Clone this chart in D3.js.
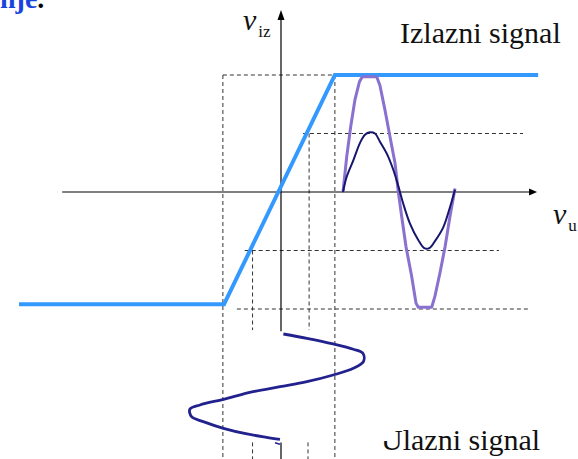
<!DOCTYPE html>
<html><head><meta charset="utf-8">
<script src="https://cdn.jsdelivr.net/npm/d3@7"></script>
<style>html,body{margin:0;padding:0;background:#fff;}svg{display:block;}</style>
</head><body>
<script>
// ---- data ----
// transfer characteristic vout = f(vin)
const transferVin  = [-4.66, -1.0, 0.98, 4.61];
const transferVout = [-0.96, -0.96, 1.0, 1.0];
// output signals vs time (one period)
const outTime  = [0,0.033,0.092,0.152,0.196,0.241,0.286,0.330,0.390,0.449,0.494,0.538,0.598,0.672,0.726,0.771,0.821,0.896,0.955,1.0];
const outSmall = [0,0.13,0.27,0.42,0.49,0.51,0.50,0.43,0.33,0.19,0.05,-0.10,-0.27,-0.41,-0.48,-0.48,-0.42,-0.30,-0.13,0.02];
const clipTime = [0,0.033,0.069,0.107,0.146,0.172,0.301,0.330,0.375,0.420,0.464,0.494,0.524,0.563,0.613,0.652,0.672,0.792,0.821,0.866,0.911,0.955,1.0];
const clipOut  = [0,0.30,0.56,0.79,0.94,0.985,0.985,0.91,0.70,0.47,0.25,0,-0.21,-0.47,-0.72,-0.95,-0.985,-0.985,-0.89,-0.69,-0.47,-0.21,0.03];
// input signal vs time (time runs downward)
const inTime = [0,0.041,0.094,0.144,0.182,0.261,0.324,0.387,0.450,0.497,0.544,0.616,0.670,0.710,0.780,0.827,0.890,0.943,0.975,0.994];
const inVin  = [0.06,0.48,0.95,1.31,1.48,1.49,1.31,0.95,0.48,0.0,-0.48,-1.01,-1.43,-1.61,-1.58,-1.37,-1.01,-0.59,-0.24,0.0];
const tailTime = [1.026, 1.04];
const tailVin  = [-0.09, 0.0];
// dashed guide lines: horizontal [vout, vinFrom, vinTo], vertical [vin, voutFrom, voutTo]
const hGuides = [[1.0,-1.02,3.27],[0.5,0.41,4.34],[-0.5,-0.63,3.91],[-1.0,-0.77,4.46]];
const vGuides = [[-1.02,1.0,-2.3],[0.98,1.0,-2.3],[-0.49,-0.5,-1.18],[0.52,0.5,-1.18],[-0.49,-2.14,-2.3],[0.5,-2.14,-2.3]];
// axes extents
const xAxisVin = [-3.89, 4.59];
const yAxisVout = [[1.556,-1.19],[-2.14,-2.3]];
// texts
const titleFrag = "nje";
const outLabel = "Izlazni signal";
const inLabel = "Ulazni signal";
const yName = ["v","iz"];
const xName = ["v","u"];

// ---- drawing ----
const W = 578, H = 459;
const svg = d3.select("body").append("svg").attr("width", W).attr("height", H);

const x  = d3.scaleLinear().domain([-1, 1]).range([224, 336]);   // vin
const y  = d3.scaleLinear().domain([-1, 1]).range([309, 75]);    // vout
const t  = d3.scaleLinear().domain([0, 1]).range([343, 455]);    // time, output plot
const tIn = d3.scaleLinear().domain([0, 1]).range([334, 440]);   // time, input plot

// dashed guides
const g = svg.append("g").attr("stroke", "#333").attr("stroke-width", 1).attr("stroke-dasharray", "4,3").attr("fill", "none");
g.selectAll("line.h").data(hGuides).join("line").attr("class","h")
  .attr("x1", d => x(d[1])).attr("x2", d => x(d[2])).attr("y1", d => y(d[0])).attr("y2", d => y(d[0]));
g.selectAll("line.v").data(vGuides).join("line").attr("class","v")
  .attr("x1", d => x(d[0])).attr("x2", d => x(d[0])).attr("y1", d => y(d[1])).attr("y2", d => y(d[2]));

// axes
const ax = svg.append("g").attr("stroke", "#000").attr("stroke-width", 1.2);
ax.append("line").attr("x1", x(xAxisVin[0])).attr("x2", x(xAxisVin[1]) - 4).attr("y1", y(0)).attr("y2", y(0));
yAxisVout.forEach((s, i) => {
  ax.append("line").attr("x1", x(0) + 1).attr("x2", x(0) + 1)
    .attr("y1", y(s[0]) + (i === 0 ? 4 : 0)).attr("y2", y(s[1]));
});
const xt = x(xAxisVin[1]), yt = y(yAxisVout[0][0]);
svg.append("path").attr("d", `M${xt},${y(0)} L${xt-8},${y(0)-3.5} L${xt-8},${y(0)+3.5} Z`).attr("fill", "#000");
svg.append("path").attr("d", `M${x(0)+1},${yt} L${x(0)-2.5},${yt+10} L${x(0)+4.5},${yt+10} Z`).attr("fill", "#000");

// transfer characteristic
const line = d3.line().x(d => d[0]).y(d => d[1]);
svg.append("path")
  .attr("d", line(transferVin.map((v, i) => [x(v), y(transferVout[i])])))
  .attr("fill", "none").attr("stroke", "#3399ff").attr("stroke-width", 4).attr("stroke-linejoin", "miter");

// clipped output (purple)
svg.append("path")
  .attr("d", line(clipTime.map((v, i) => [t(v), y(clipOut[i])])))
  .attr("fill", "none").attr("stroke", "#8a70cf").attr("stroke-width", 3).attr("stroke-linejoin", "round");

// small output (navy)
const smooth = d3.line().x(d => d[0]).y(d => d[1]).curve(d3.curveCatmullRom.alpha(0.5));
svg.append("path")
  .attr("d", smooth(outTime.map((v, i) => [t(v), y(outSmall[i])])))
  .attr("fill", "none").attr("stroke", "#16166e").attr("stroke-width", 2);

// input signal
svg.append("path")
  .attr("d", smooth(inTime.map((v, i) => [x(inVin[i]), tIn(v)])))
  .attr("fill", "none").attr("stroke", "#22228e").attr("stroke-width", 2.8).attr("stroke-linejoin", "round");
svg.append("path")
  .attr("d", line(tailTime.map((v, i) => [x(tailVin[i]), tIn(v)])))
  .attr("fill", "none").attr("stroke", "#22228e").attr("stroke-width", 1.5);

// texts
const serif = "'Liberation Serif','Times New Roman',serif";
const tf = svg.append("text").attr("x", 0).attr("y", 8).attr("font-family", serif)
  .attr("font-size", 28).attr("font-weight", "bold");
tf.append("tspan").attr("fill", "#1a44e0").text(titleFrag);
tf.append("tspan").attr("fill", "#000").text(".");

svg.append("text").attr("x", 400).attr("y", 43).attr("font-family", serif).attr("font-size", 30).attr("fill", "#111").text(outLabel);
svg.append("text").attr("x", 381).attr("y", 450).attr("font-family", serif).attr("font-size", 30).attr("fill", "#111").text(inLabel);
// part of the "U" is hidden in the original
svg.append("rect").attr("x", 378).attr("y", 424).attr("width", 13).attr("height", 17).attr("fill", "#fff");

function axisName(px, py, parts) {
  const tx = svg.append("text").attr("x", px).attr("y", py).attr("font-family", serif).attr("fill", "#111");
  tx.append("tspan").attr("font-style", "italic").attr("font-size", 30).text(parts[0]);
  tx.append("tspan").attr("font-size", 17).attr("dx", 2).attr("dy", 7).text(parts[1]);
}
axisName(243, 30, yName);
axisName(553, 224, xName);
</script>
</body></html>
